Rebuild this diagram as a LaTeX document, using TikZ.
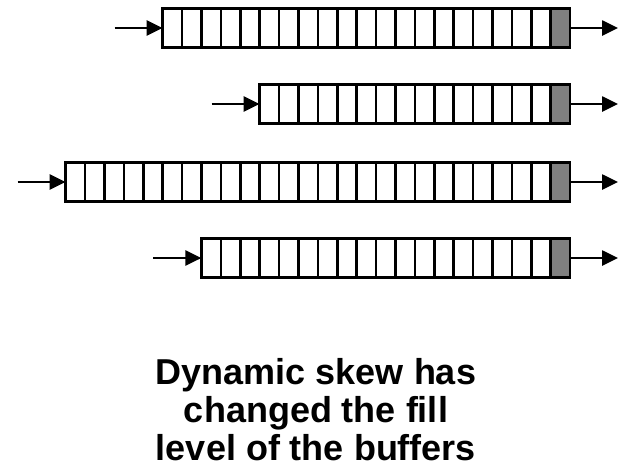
\documentclass[tikz,border=0pt]{standalone}
\usepackage{fontspec}
\setmainfont{Liberation Sans}
\usetikzlibrary{arrows.meta}
\usetikzlibrary{positioning}
\newcommand{\cellw}{19.4}
\tikzset{
	buffer/.style={draw, fill=white, line width=2.6pt, inner sep=0pt, outer sep=0pt, minimum height=38.5pt},
	flow/.style={line width=2.6pt, ->, >={Triangle[length=16pt,width=15pt]}},
	skew note/.style={align=center, inner sep=0pt, font=\fontsize{36}{38}\selectfont\bfseries},
}

\begin{document}
\begin{tikzpicture}[x=1pt,y=-1pt]
		\useasboundingbox (0,0) rectangle (621,469);
		% row / centre line / number of free cells
		\foreach \n/\y/\w in {1/28/20, 2/104/15, 3/182/25, 4/258/18} {
			\node[buffer, anchor=east, minimum width={(\w+1)*\cellw*1pt}] (buf\n) at (570,\y) {};
			\fill[gray] ([xshift=-\cellw pt, yshift=-1.3pt]buf\n.north east) rectangle ([shift={(-1.3pt,1.3pt)}]buf\n.south east);
			\foreach \i in {1,...,\w}
				\draw[line width=2.6pt] ([xshift=-\i*\cellw pt]buf\n.north east) -- ([xshift=-\i*\cellw pt]buf\n.south east);
			\coordinate (in\n) at ([xshift=-48pt]buf\n.west);
			\coordinate (out\n) at ([xshift=48pt]buf\n.east);
			\draw[flow] (in\n) -- (buf\n.west);
			\draw[flow] (buf\n.east) -- (out\n);
		}
		\node[skew note] (note) at (316,410) {Dynamic skew has\\changed the fill\\level of the buffers};
	\end{tikzpicture}
\end{document}
